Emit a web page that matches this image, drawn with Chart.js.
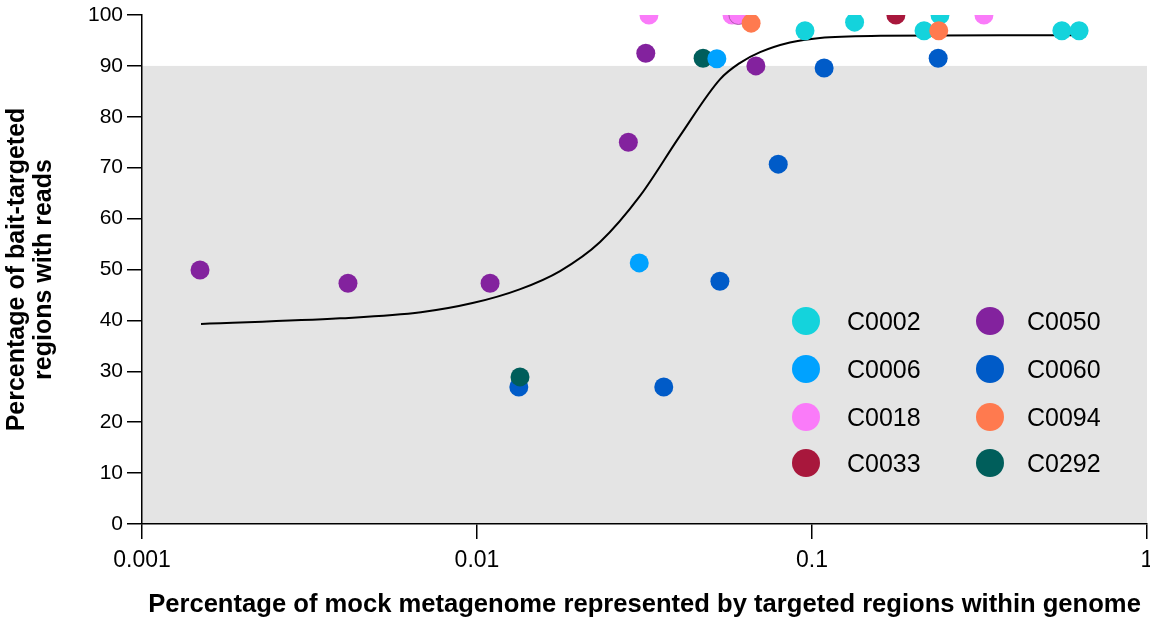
<!DOCTYPE html>
<html>
<head>
<meta charset="utf-8">
<script src="https://cdn.jsdelivr.net/npm/chart.js@4/dist/chart.umd.min.js"></script>
<style>
  html, body { margin: 0; padding: 0; background: #fff; }
  #wrap { width: 1150px; height: 620px; }
</style>
</head>
<body>
<div id="wrap"><canvas id="chart"></canvas></div>
<script>
// data
const seriesNames = ["C0002", "C0006", "C0018", "C0033", "C0050", "C0060", "C0094", "C0292"];
const seriesColors = ["#14D3DC", "#00A2FF", "#FA7BF9", "#A8173C", "#83229E", "#005BC8", "#FF7A4F", "#005E5B"];

const c0002X = [0.0953, 0.134, 0.216, 0.241, 0.557, 0.627];
const c0002Y = [96.9, 98.6, 96.9, 100, 96.9, 96.9];
const c0006X = [0.052, 0.0305];
const c0006Y = [91.4, 51.3];
const c0018X = [0.0326, 0.0577, 0.0603, 0.326];
const c0018Y = [100, 100, 100, 100];
const c0033X = [0.178];
const c0033Y = [100];
const c0050X = [0.00149, 0.00412, 0.01094, 0.0283, 0.0319, 0.068];
const c0050Y = [49.9, 47.3, 47.3, 75.0, 92.5, 90.0];
const c0060X = [0.01333, 0.0361, 0.0531, 0.0793, 0.1087, 0.238];
const c0060Y = [26.9, 26.9, 47.7, 70.7, 89.6, 91.5];
const c0094X = [0.0658, 0.239];
const c0094Y = [98.4, 96.9];
const c0292X = [0.0473, 0.01344];
const c0292Y = [91.5, 28.9];

// fitted curve
const fitX = [0.0015, 0.0039, 0.0068, 0.0097, 0.0134, 0.0177, 0.0233, 0.0307, 0.0404, 0.0532,
  0.061, 0.07, 0.0859, 0.1057, 0.16, 0.364, 0.63];
const fitY = [39.3, 40.4, 41.6, 43.4, 46.1, 49.7, 55.4, 64.5, 76.3, 87.4,
  90.6, 92.7, 94.6, 95.5, 95.9, 96.0, 96.0];

const xTicks = [0.001, 0.01, 0.1, 1];
const xTickLabels = ["0.001", "0.01", "0.1", "1"];
const yTicks = [0, 10, 20, 30, 40, 50, 60, 70, 80, 90, 100];
const shadedMax = 90;

const FONT = "'Liberation Sans', Arial, Helvetica, sans-serif";

const xs = [c0002X, c0006X, c0018X, c0033X, c0050X, c0060X, c0094X, c0292X];
const ys = [c0002Y, c0006Y, c0018Y, c0033Y, c0050Y, c0060Y, c0094Y, c0292Y];
// lower order = drawn on top
const drawOrder = [8, 2, 7, 6, 5, 4, 1, 3];

const toPoints = (xArr, yArr) => xArr.map((x, i) => ({ x: x, y: yArr[i] }));

const datasets = seriesNames.map((name, i) => {
  const ds = {
    type: "scatter",
    label: name,
    data: toPoints(xs[i], ys[i]),
    backgroundColor: seriesColors[i],
    borderColor: seriesColors[i],
    borderWidth: 0,
    pointRadius: 9.5,
    pointHoverRadius: 9.5,
    order: drawOrder[i],
  };
  if (name === "C0018") {
    ds.borderColor = ["#FA7BF9", "#FA7BF9", "#9A4C9A", "#FA7BF9"];
    ds.borderWidth = [0, 0, 0.8, 0];
  }
  return ds;
});

datasets.push({
  type: "line",
  label: "fit",
  data: toPoints(fitX, fitY),
  borderColor: "#000",
  borderWidth: 2,
  pointRadius: 0,
  fill: false,
  cubicInterpolationMode: "monotone",
  order: 20,
});

const shadePlugin = {
  id: "shade",
  beforeDraw(chart) {
    const { ctx, chartArea, scales } = chart;
    const yTop = scales.y.getPixelForValue(shadedMax);
    const yBot = scales.y.getPixelForValue(0);
    ctx.save();
    ctx.fillStyle = "#E4E4E4";
    ctx.fillRect(chartArea.left, yTop, chartArea.right - chartArea.left, yBot - yTop);
    ctx.restore();
  },
};

const legendPlugin = {
  id: "cornerLegend",
  afterDatasetsDraw(chart) {
    const { ctx, chartArea } = chart;
    const colX = [chartArea.left + 664, chartArea.left + 848];
    const rowY = [chartArea.top + 306, chartArea.top + 354, chartArea.top + 402, chartArea.top + 448];
    ctx.save();
    ctx.font = "25px " + FONT;
    ctx.textBaseline = "middle";
    seriesNames.forEach((name, i) => {
      const col = Math.floor(i / 4);
      const row = i % 4;
      const cx = colX[col];
      const cy = rowY[row];
      ctx.beginPath();
      ctx.arc(cx, cy, 14, 0, Math.PI * 2);
      ctx.fillStyle = seriesColors[i];
      ctx.fill();
      ctx.fillStyle = "#000";
      ctx.fillText(name, cx + (col === 0 ? 41 : 37), cy + 2);
    });
    ctx.restore();
  },
};

new Chart(document.getElementById("chart"), {
  type: "scatter",
  data: { datasets: datasets },
  plugins: [shadePlugin, legendPlugin],
  options: {
    responsive: true,
    maintainAspectRatio: false,
    animation: false,
    layout: { autoPadding: false, padding: { top: 15, right: 3, left: 0, bottom: 0 } },
    plugins: { legend: { display: false }, tooltip: { enabled: false } },
    scales: {
      x: {
        type: "logarithmic",
        min: 0.001,
        max: 1,
        afterBuildTicks: (scale) => {
          scale.ticks = xTicks.map((v) => ({ value: v, major: true }));
        },
        afterFit: (scale) => {
          scale.height = 96;
          scale.paddingLeft = 0;
          scale.paddingRight = 0;
        },
        ticks: {
          autoSkip: false,
          maxRotation: 0,
          color: "#000",
          padding: 8,
          font: { family: FONT, size: 23 },
          callback: (v) => {
            const i = xTicks.indexOf(v);
            return i >= 0 ? xTickLabels[i] : "";
          },
        },
        grid: { drawOnChartArea: false, drawTicks: true, tickLength: 15, color: "#000", lineWidth: 1.5 },
        border: { color: "#000", width: 1.5 },
        title: {
          display: true,
          text: "Percentage of mock metagenome represented by targeted regions within genome",
          color: "#000",
          font: { family: FONT, size: 25.6, weight: "bold", lineHeight: 1.2 },
          padding: { top: 0, bottom: 0 },
        },
      },
      y: {
        min: 0,
        max: 100,
        afterBuildTicks: (scale) => {
          scale.ticks = yTicks.map((v) => ({ value: v }));
        },
        afterFit: (scale) => {
          scale.width = 142;
          scale.paddingTop = 0;
          scale.paddingBottom = 0;
        },
        ticks: {
          color: "#000",
          padding: 4,
          font: { family: FONT, size: 21 },
        },
        grid: { drawOnChartArea: false, drawTicks: true, tickLength: 15, color: "#000", lineWidth: 1.5 },
        border: { color: "#000", width: 1.5 },
        title: {
          display: true,
          text: ["Percentage of bait-targeted", "regions with reads"],
          color: "#000",
          font: { family: FONT, size: 25, weight: "bold", lineHeight: 1.08 },
          padding: { top: 4, bottom: 0 },
        },
      },
    },
  },
});
</script>
</body>
</html>
